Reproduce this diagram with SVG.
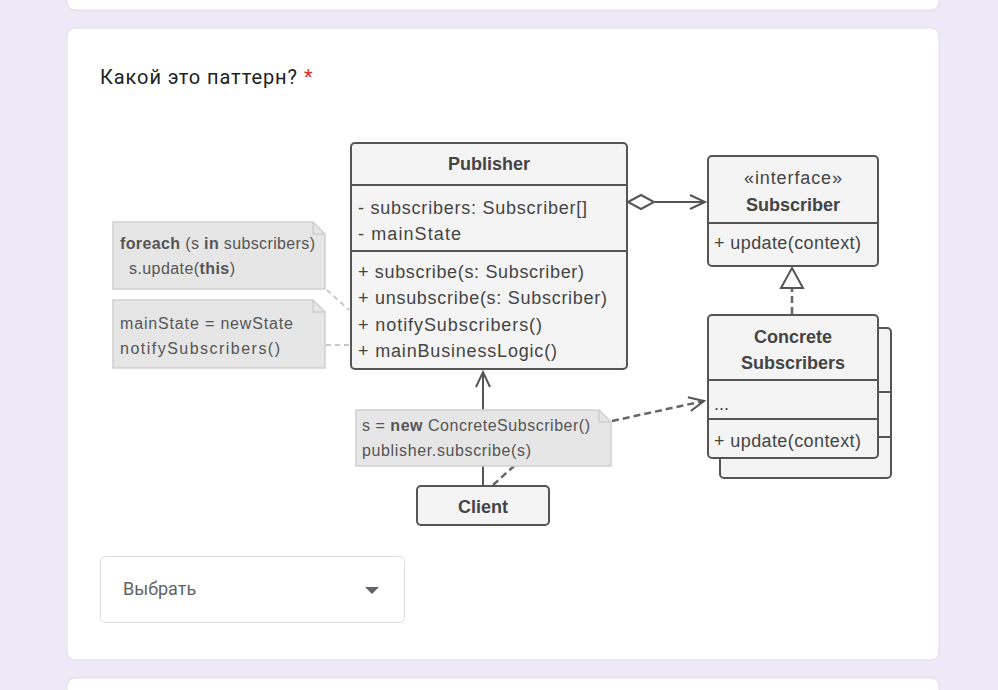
<svg xmlns="http://www.w3.org/2000/svg" width="998" height="690" viewBox="0 0 998 690">
<style>
.box{fill:#f4f4f4;stroke:#555;stroke-width:2}
.sep{stroke:#555;stroke-width:2}
.note{fill:#e6e6e6;stroke:#cfcfcf;stroke-width:1.5}
.t{font-family:"Liberation Sans","Noto Sans",sans-serif;font-size:18px;fill:#444}
.tb{font-family:"Liberation Sans","Noto Sans",sans-serif;font-size:18px;font-weight:bold;fill:#444}
.n{font-family:"Liberation Sans","Noto Sans",sans-serif;font-size:16px;fill:#555}
.ln{stroke:#555;stroke-width:2;fill:none}
.dash{stroke:#666;stroke-width:2.5;fill:none;stroke-dasharray:7 4}
.ndash{stroke:#c8c8c8;stroke-width:2;fill:none;stroke-dasharray:5 4}
</style>
<defs>
<marker id="open" markerWidth="20" markerHeight="20" refX="17" refY="8" orient="auto" markerUnits="userSpaceOnUse">
<path d="M2,1 L17,8 L2,15" fill="none" stroke="#555" stroke-width="2"/>
</marker>
</defs>
<rect width="998" height="690" fill="#ede9f7"/>
<rect x="67" y="-20" width="872" height="30" rx="8" fill="#fff" stroke="#e0dde8"/>
<rect x="67" y="28" width="872" height="632" rx="8" fill="#fff" stroke="#e0dde8"/>
<rect x="67" y="678" width="872" height="40" rx="8" fill="#fff" stroke="#e0dde8"/>
<text x="100" y="84" font-family="Roboto,'Liberation Sans',sans-serif" font-size="20" fill="#202124" textLength="197">Какой это паттерн?</text>
<text x="304" y="84" font-family="Roboto,'Liberation Sans',sans-serif" font-size="20" fill="#d93025">*</text>

<g id="connectors">
<line x1="483" y1="486" x2="483" y2="372" class="ln" marker-end="url(#open)"/>
<line x1="655" y1="202" x2="705" y2="202" class="ln" marker-end="url(#open)"/>
<path d="M628,202 L641,195 L654,202 L641,209 Z" fill="#fff" stroke="#555" stroke-width="2"/>
<line x1="792" y1="314" x2="792" y2="289" class="dash"/>
<path d="M792,268 L803,288 L781,288 Z" fill="#fff" stroke="#555" stroke-width="2"/>
<line x1="612" y1="421" x2="704" y2="401" class="dash" marker-end="url(#open)"/>
<line x1="493" y1="485" x2="514" y2="466" class="dash"/>
<line x1="327" y1="290" x2="349" y2="310" class="ndash"/>
<line x1="326" y1="345" x2="350" y2="345" class="ndash"/>
</g>

<g id="publisher">
<rect x="351" y="143" width="276" height="226" rx="4" class="box"/>
<line x1="351" y1="185" x2="627" y2="185" class="sep"/>
<line x1="351" y1="251" x2="627" y2="251" class="sep"/>
<text x="489" y="170" text-anchor="middle" class="tb">Publisher</text>
<text x="358" y="214" class="t" textLength="229">- subscribers: Subscriber[]</text>
<text x="358" y="240" class="t" textLength="103">- mainState</text>
<text x="358" y="278" class="t" textLength="226">+ subscribe(s: Subscriber)</text>
<text x="358" y="304" class="t" textLength="249">+ unsubscribe(s: Subscriber)</text>
<text x="358" y="331" class="t" textLength="184">+ notifySubscribers()</text>
<text x="358" y="357" class="t" textLength="199">+ mainBusinessLogic()</text>
</g>

<g id="subscriber">
<rect x="708" y="156" width="170" height="110" rx="4" class="box"/>
<line x1="708" y1="223" x2="878" y2="223" class="sep"/>
<text x="793" y="184" text-anchor="middle" class="t" textLength="98">«interface»</text>
<text x="793" y="211" text-anchor="middle" class="tb">Subscriber</text>
<text x="714" y="249" class="t" textLength="147">+ update(context)</text>
</g>

<g id="concrete">
<rect x="720" y="328" width="171" height="150" rx="4" class="box"/>
<line x1="878" y1="392" x2="891" y2="392" class="sep"/>
<line x1="878" y1="437" x2="891" y2="437" class="sep"/>
<rect x="708" y="315" width="170" height="143" rx="4" class="box"/>
<line x1="708" y1="380" x2="878" y2="380" class="sep"/>
<line x1="708" y1="419" x2="878" y2="419" class="sep"/>
<text x="793" y="343" text-anchor="middle" class="tb">Concrete</text>
<text x="793" y="369" text-anchor="middle" class="tb">Subscribers</text>
<text x="714" y="410" class="t">...</text>
<text x="714" y="447" class="t" textLength="147">+ update(context)</text>
</g>

<g id="note-notify">
<path d="M113,222 H313 L325,234 V289 H113 Z" class="note"/>
<path d="M313,222 V234 H325" fill="none" stroke="#cfcfcf" stroke-width="1.5"/>
<text x="120" y="249" class="n" textLength="195"><tspan font-weight="bold">foreach</tspan> (s <tspan font-weight="bold">in</tspan> subscribers)</text>
<text x="129" y="274" class="n" textLength="106">s.update(<tspan font-weight="bold">this</tspan>)</text>
</g>

<g id="note-logic">
<path d="M113,300 H313 L325,312 V368 H113 Z" class="note"/>
<path d="M313,300 V312 H325" fill="none" stroke="#cfcfcf" stroke-width="1.5"/>
<text x="120" y="329" class="n" textLength="173">mainState = newState</text>
<text x="120" y="354" class="n" textLength="160">notifySubscribers()</text>
</g>

<g id="note-client">
<path d="M356,410 H599 L611,422 V466 H356 Z" class="note"/>
<path d="M599,410 V422 H611" fill="none" stroke="#cfcfcf" stroke-width="1.5"/>
<text x="362" y="431" class="n" textLength="228">s = <tspan font-weight="bold">new</tspan> ConcreteSubscriber()</text>
<text x="362" y="456" class="n" textLength="169">publisher.subscribe(s)</text>
</g>

<g id="client">
<rect x="417" y="486" width="132" height="39" rx="4" class="box"/>
<text x="483" y="513" text-anchor="middle" class="tb">Client</text>
</g>

<g id="dropdown">
<rect x="100.5" y="556.5" width="304" height="66" rx="5" fill="#fff" stroke="#dadce0"/>
<text x="123" y="595" font-family="Roboto,'Liberation Sans',sans-serif" font-size="18" fill="#5f6368">Выбрать</text>
<path d="M365,587 L379,587 L372,594 Z" fill="#5f6368"/>
</g>
</svg>
